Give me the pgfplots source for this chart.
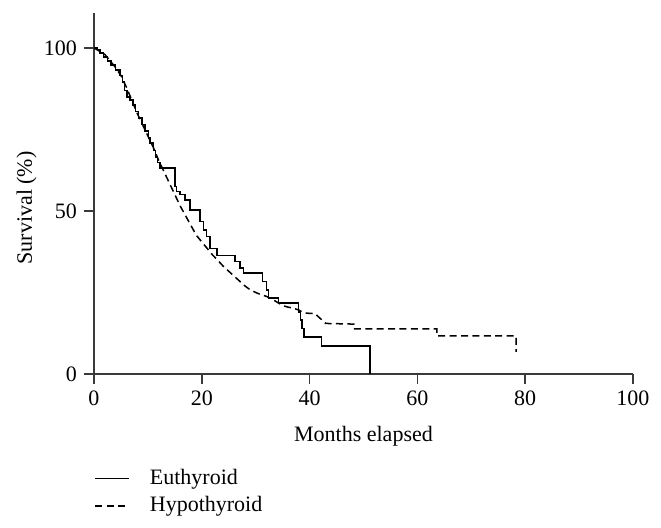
\documentclass[border=0pt]{standalone}
\usepackage{fontspec}
\setmainfont{Liberation Serif}
\usepackage{pgfplots}
\pgfplotsset{compat=1.18}
\definecolor{axisgray}{HTML}{3A3A3A}
\begin{document}
\begin{tikzpicture}[font=\fontsize{11}{13}\selectfont]
\useasboundingbox (-47pt,-77pt) rectangle (283.5pt,187pt);
\begin{axis}[
  at={(0,0)}, anchor=south west,
  scale only axis,
  width=269.5pt, height=180.5pt,
  xmin=0, xmax=100, ymin=0, ymax=110.7,
  axis lines=left,
  axis line style={-, axisgray, line width=0.75pt},
  every tick/.style={axisgray, line width=0.75pt},
  tick align=outside,
  major tick length=5pt,
  xtick={0,20,40,60,80,100},
  ytick={0,50,100},
  /pgf/number format/assume math mode=true,
  xlabel={Months elapsed},
  ylabel={Survival (\%)},
  xlabel style={at={(axis description cs:0.5,0)}, anchor=center, yshift=-31pt},
  ylabel style={at={(axis description cs:-0.125,0.46)}, anchor=center},
  clip=false,
  legend style={at={(axis description cs:0,0)}, anchor=north west, yshift=-43.5pt, xshift=-3pt,
    draw=none, fill=none, row sep=0.5pt, column sep=8pt, font=\fontsize{11}{13}\selectfont,
    legend cell align=left},
  legend image code/.code={\draw[#1] (0pt,0pt) -- (17pt,0pt);},
]
\addplot[black, line width=0.75pt, const plot, mark=none] coordinates {
(0,100) (0.6,99.5) (1.1,98.5) (1.8,97.2) (2.5,96.0) (3.2,94.7) (4.0,93.2) (4.8,91.5)
(5.3,89.5) (5.7,87.0) (6.1,85.0) (6.7,84.0) (7.2,82.5) (7.7,80.5) (8.3,78.5) (8.9,76.5) (9.5,74.5) (10.1,72.3) (10.4,70.8)
(11.0,68.5) (11.4,66.5) (11.8,64.8) (12.2,63.1) (15.0,57.5) (15.3,56.0) (16.0,55.0)
(16.9,53.4) (17.8,50.3) (19.7,46.7) (20.3,44.2) (20.9,42.1) (21.5,38.5) (22.8,36.3)
(26.2,34.5) (27.1,32.5) (27.7,31.0) (31.3,28.3) (32.0,25.8) (32.4,23.3) (34.2,21.7)
(37.9,19.0) (38.3,16.6) (38.6,14.0) (39.0,11.4) (42.2,8.6) (51.2,0)
};
\addlegendentry{Euthyroid}
\addplot[black, line width=0.75pt, dash pattern=on 3.5pt off 2.2pt, mark=none] coordinates {
(0,100) (1,99) (2,98) (3,96) (4,94) (5,91.5) (6,88) (7,84) (8,80) (9,76.5) (10,73)
(11,69.5) (12,65.5) (13,62) (14,58.5) (15,55) (16,51.5) (17,48.5) (18,45.5) (19,42.5)
(20,40.5) (21,38.5) (22,36.5) (23,34.8) (24,33) (25,31.5) (26,30) (27,28.5) (28,27)
(29,25.8) (30,25) (31,24.3) (32,23.8) (33,23) (34,22) (35,21) (36,20.5) (37,20.2)
(38,19.6) (39,18.7) (41,18.5) (42,17) (43,15.5) (48.2,15.3) (48.2,13.8) (63.6,13.8)
(63.6,11.7) (78.3,11.7) (78.3,6.8)
};
\addlegendentry{Hypothyroid}
\end{axis}
\end{tikzpicture}
\end{document}
